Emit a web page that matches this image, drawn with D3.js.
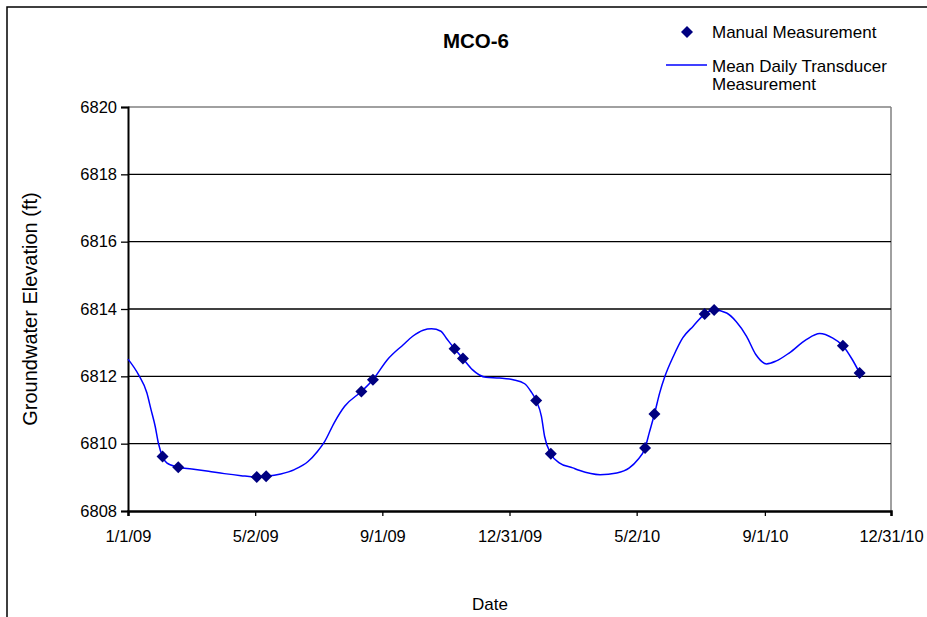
<!DOCTYPE html>
<html><head><meta charset="utf-8">
<script src="https://cdn.jsdelivr.net/npm/d3@7"></script>
<style>body{margin:0;background:#fff;} svg{display:block;font-family:Arial,"Liberation Sans",sans-serif;}</style>
</head><body><svg id="c" width="927" height="617"></svg>
<script>
const transducerDates = ["2009-01-01","2009-01-11","2009-01-19","2009-01-23","2009-01-27","2009-01-30","2009-02-03","2009-02-07","2009-02-18","2009-03-03","2009-03-19","2009-04-03","2009-04-19","2009-05-04","2009-05-13","2009-05-27","2009-06-09","2009-06-22","2009-07-01","2009-07-08","2009-07-17","2009-07-27","2009-08-12","2009-08-23","2009-09-06","2009-09-21","2009-09-30","2009-10-10","2009-10-18","2009-10-27","2009-11-01","2009-11-09","2009-11-17","2009-11-26","2009-12-09","2009-12-22","2010-01-04","2010-01-15","2010-01-21","2010-01-26","2010-01-31","2010-02-03","2010-02-09","2010-02-17","2010-03-02","2010-03-08","2010-03-28","2010-04-13","2010-04-25","2010-05-03","2010-05-10","2010-05-14","2010-05-19","2010-05-24","2010-05-29","2010-06-06","2010-06-15","2010-06-25","2010-07-06","2010-07-15","2010-07-27","2010-08-05","2010-08-15","2010-08-24","2010-09-03","2010-09-12","2010-09-25","2010-10-11","2010-10-24","2010-11-05","2010-11-15","2010-11-24","2010-12-01"];
const transducerValues = [6812.51,6812.05,6811.51,6811.01,6810.51,6810.02,6809.62,6809.43,6809.30,6809.25,6809.18,6809.11,6809.05,6809.01,6809.03,6809.10,6809.23,6809.47,6809.77,6810.07,6810.62,6811.11,6811.55,6811.90,6812.50,6812.94,6813.19,6813.37,6813.41,6813.34,6813.14,6812.82,6812.53,6812.20,6811.97,6811.95,6811.90,6811.78,6811.55,6811.28,6810.81,6810.22,6809.70,6809.43,6809.28,6809.21,6809.08,6809.13,6809.28,6809.52,6809.87,6810.32,6810.88,6811.51,6812.00,6812.59,6813.14,6813.49,6813.85,6813.97,6813.88,6813.63,6813.19,6812.64,6812.37,6812.45,6812.70,6813.09,6813.27,6813.14,6812.91,6812.50,6812.10];
const manualDates = ["2009-02-03","2009-02-18","2009-05-04","2009-05-13","2009-08-12","2009-08-23","2009-11-09","2009-11-17","2010-01-26","2010-02-09","2010-05-10","2010-05-19","2010-07-06","2010-07-15","2010-11-15","2010-12-01"];
const manualValues = [6809.62,6809.30,6809.01,6809.03,6811.55,6811.90,6812.82,6812.53,6811.28,6809.70,6809.87,6810.88,6813.85,6813.97,6812.91,6812.10];
const xTickDates = ["2009-01-01T00:00","2009-05-02T12:00","2009-09-01T00:00","2009-12-31T12:00","2010-05-02T00:00","2010-09-01T12:00","2010-12-31T00:00"];
const xTickLabels = ["1/1/09","5/2/09","9/1/09","12/31/09","5/2/10","9/1/10","12/31/10"];
const yTicks = [6808,6810,6812,6814,6816,6818,6820];
const titleText = "MCO-6";
const xTitle = "Date";
const yTitle = "Groundwater Elevation (ft)";
const legendLabels = ["Manual Measurement", ["Mean Daily Transducer","Measurement"]];

const pd = d3.timeParse("%Y-%m-%d");
const pt = d3.timeParse("%Y-%m-%dT%H:%M");
const line = transducerDates.map((d,i)=>({d:pd(d), v:transducerValues[i]}));
const manual = manualDates.map((d,i)=>({d:pd(d), v:manualValues[i]}));
const xt = xTickDates.map(pt);

const L=128, R=891, T=107, B=511;
const x = d3.scaleTime().domain([xt[0], xt[xt.length-1]]).range([L,R]);
const y = d3.scaleLinear().domain([6808,6820]).range([B,T]);
const FF = "Arial, 'Liberation Sans', sans-serif";

const svg = d3.select("#c");
svg.append("rect").attr("x",0).attr("y",0).attr("width",927).attr("height",617).attr("fill","#fff");
// outer frame
svg.append("rect").attr("x",7).attr("y",7).attr("width",960).attr("height",660)
  .attr("fill","none").attr("stroke","#000").attr("stroke-width",1.5);

// plot border (gray top/right)
svg.append("line").attr("x1",L).attr("x2",R).attr("y1",T).attr("y2",T).attr("stroke","#808080").attr("stroke-width",1.5);
svg.append("line").attr("x1",R).attr("x2",R).attr("y1",T).attr("y2",B).attr("stroke","#808080").attr("stroke-width",1.5);

// gridlines
svg.append("g").selectAll("line").data(yTicks.filter(t=>t>6808 && t<6820)).join("line")
  .attr("x1",L).attr("x2",R).attr("y1",d=>y(d)).attr("y2",d=>y(d))
  .attr("stroke","#000").attr("stroke-width",1.3);

// y axis
const ya = svg.append("g").attr("transform",`translate(${L},0)`)
  .call(d3.axisLeft(y).tickValues(yTicks).tickSize(7).tickPadding(4).tickFormat(d3.format("d")));
ya.select(".domain").attr("stroke-width",2);
ya.selectAll(".tick line").attr("stroke-width",1.3);
ya.selectAll("text").attr("font-size",16.5).attr("font-family",FF).attr("fill","#000");

// x axis
const xa = svg.append("g").attr("transform",`translate(0,${B})`)
  .call(d3.axisBottom(x).tickValues(xt).tickSize(5).tickPadding(14).tickFormat((d,i)=>xTickLabels[i]));
xa.select(".domain").attr("stroke-width",2.5);
xa.selectAll(".tick line").attr("stroke-width",1.3);
xa.selectAll("text").attr("font-size",16.5).attr("font-family",FF).attr("fill","#000");

// line
svg.append("path").datum(line)
  .attr("d", d3.line().x(d=>x(d.d)).y(d=>y(d.v)).curve(d3.curveMonotoneX))
  .attr("fill","none").attr("stroke","#0000FF").attr("stroke-width",1.5);

// manual markers
const sym = d3.symbol().type(d3.symbolSquare).size(72);
svg.append("g").selectAll("path").data(manual).join("path")
  .attr("d",sym()).attr("fill","#000080")
  .attr("transform",d=>`translate(${x(d.d)},${y(d.v)}) rotate(45)`);

// titles
svg.append("text").attr("x",476).attr("y",48).attr("text-anchor","middle")
  .attr("font-size",20.5).attr("font-weight","bold").text(titleText);
svg.append("text").attr("x",490).attr("y",610).attr("text-anchor","middle")
  .attr("font-size",17).text(xTitle);
svg.append("text").attr("transform","translate(37,309) rotate(-90)").attr("text-anchor","middle")
  .attr("font-size",20).text(yTitle);

// legend
const lg = svg.append("g");
lg.append("path").attr("d",sym()).attr("fill","#000080").attr("transform","translate(687,32) rotate(45)");
lg.append("text").attr("x",712).attr("y",38).attr("font-size",17).text(legendLabels[0]);
lg.append("line").attr("x1",666).attr("x2",707).attr("y1",65).attr("y2",65).attr("stroke","#0000FF").attr("stroke-width",1.5);
lg.append("text").attr("x",712).attr("y",72).attr("font-size",17).text(legendLabels[1][0]);
lg.append("text").attr("x",712).attr("y",90).attr("font-size",17).text(legendLabels[1][1]);
</script></body></html>
